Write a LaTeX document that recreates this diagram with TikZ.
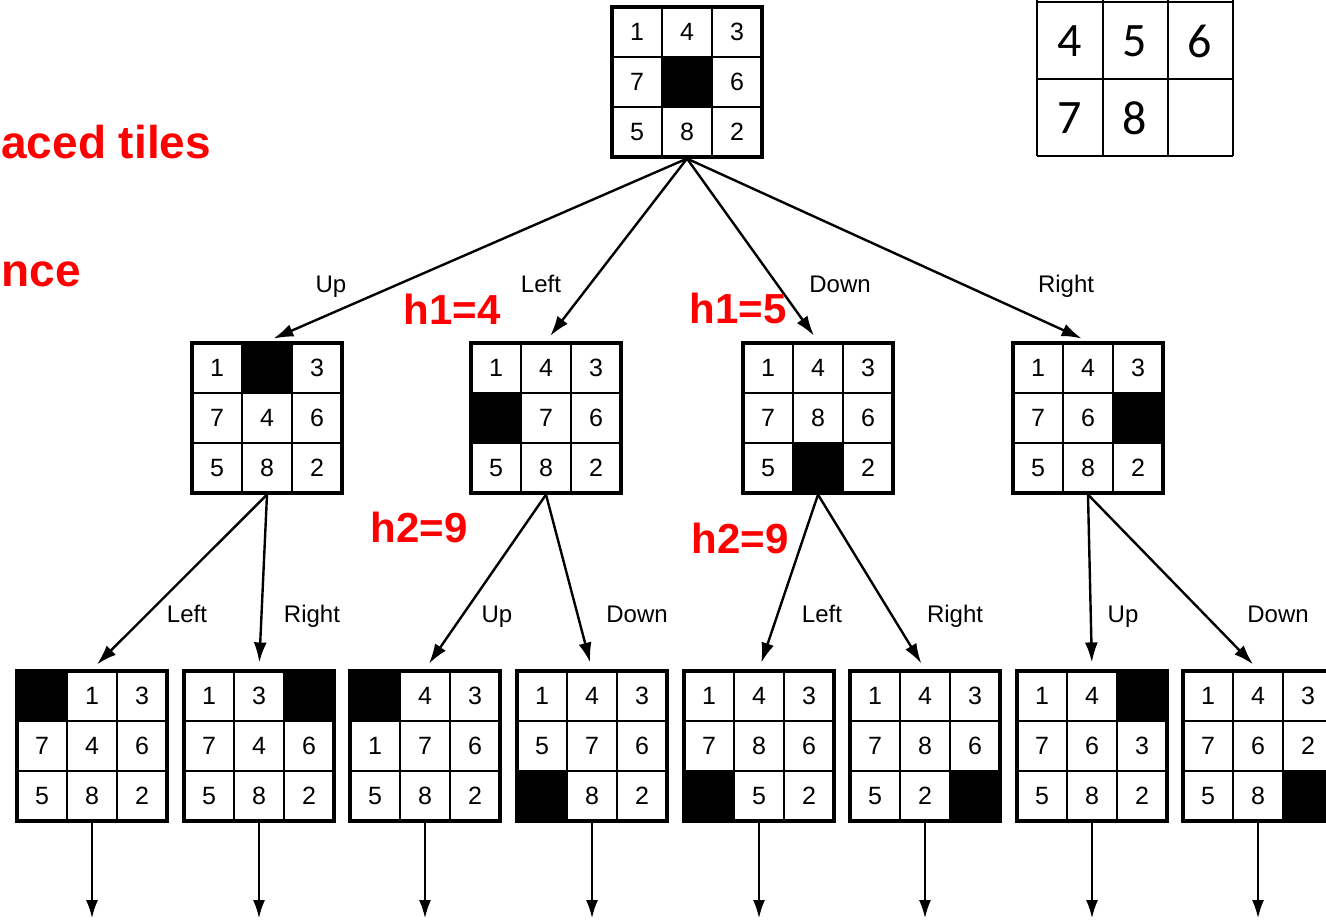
\documentclass[tikz,border=0pt]{standalone}
\usepackage{fontspec}
\setmainfont{Liberation Sans}
\newfontfamily\goalfont{Carlito}
\usetikzlibrary{arrows.meta}

\definecolor{hred}{RGB}{255,0,0}

\tikzset{
  board/.style={draw, line width=1.6pt, minimum size=75pt, inner sep=0pt},
  tile/.style={draw, line width=1.3pt, minimum size=25pt, inner sep=0pt, font=\fontsize{12.5}{14}\selectfont},
  hole/.style={tile, fill=black},
  goal/.style={inner sep=0pt, font=\goalfont\fontsize{24}{28}\selectfont},
  move/.style={-{Latex[length=10pt,width=6.5pt]}, line width=1.2pt, shorten >=3.5pt},
  more/.style={-{Latex[length=9pt,width=6pt]}, line width=0.8pt},
  mlabel/.style={anchor=base, font=\fontsize{12}{14}\selectfont},
  hnote/.style={anchor=base, inner sep=0pt, text=hred, font=\fontsize{21}{24}\selectfont\bfseries},
}

% one 8-puzzle board: name, centre x, centre y, tiles row by row (0 = blank)
\newcommand{\eightboard}[4]{%
  \foreach \tv [count=\k from 0] in {#4} {
    \pgfmathtruncatemacro{\trow}{\k/3}
    \pgfmathtruncatemacro{\tcol}{mod(\k,3)}
    \ifnum\tv=0
      \node[hole] (#1-\k) at ({#2+(\tcol-1)*50}, {#3+(\trow-1)*50}) {};
    \else
      \node[tile] (#1-\k) at ({#2+(\tcol-1)*50}, {#3+(\trow-1)*50}) {\tv};
    \fi
  }
  \node[board] (#1) at (#2,#3) {};
}

\begin{document}
\begin{tikzpicture}[x=0.5pt, y=-0.5pt]
  \clip (0,0) rectangle (1326,920);

  % Goal state (its top row lies above the page)
  \foreach \x in {1037,1103,1168,1233} {
    \draw[line width=1.2pt] (\x,0) -- (\x,156);
  }
  \foreach \y in {2,79,156} {
    \draw[line width=1.2pt] (1037,\y) -- (1233,\y);
  }
  \foreach \n/\x/\y in {4/1070/41, 5/1135/41, 6/1200/41, 7/1070/118, 8/1135/118} {
    \node[goal] (g\n) at (\x,\y) {\n};
  }

  % Red notes on the left
  \node[hnote, anchor=base west, font=\fontsize{23}{26}\selectfont\bfseries] (misplaced) at (1,158) {aced tiles};
  \node[hnote, anchor=base west, font=\fontsize{23}{26}\selectfont\bfseries] (manhattan) at (1,286) {nce};

  % Start state
  \eightboard{root}{687}{82}{1,4,3,7,0,6,5,8,2}

  % First level
  \eightboard{up}{267}{418}{1,0,3,7,4,6,5,8,2}
  \eightboard{left}{546}{418}{1,4,3,0,7,6,5,8,2}
  \eightboard{down}{818}{418}{1,4,3,7,8,6,5,0,2}
  \eightboard{right}{1088}{418}{1,4,3,7,6,0,5,8,2}

  % Second level
  \eightboard{ul}{92}{746}{0,1,3,7,4,6,5,8,2}
  \eightboard{ur}{259}{746}{1,3,0,7,4,6,5,8,2}
  \eightboard{lu}{425}{746}{0,4,3,1,7,6,5,8,2}
  \eightboard{ld}{592}{746}{1,4,3,5,7,6,0,8,2}
  \eightboard{dl}{759}{746}{1,4,3,7,8,6,0,5,2}
  \eightboard{dr}{925}{746}{1,4,3,7,8,6,5,2,0}
  \eightboard{ru}{1092}{746}{1,4,0,7,6,3,5,8,2}
  \eightboard{rd}{1258}{746}{1,4,3,7,6,2,5,8,0}

  % Moves from the start state
  \draw[move] (root.south) -- (up.north);
  \draw[move] (root.south) -- (left.north);
  \draw[move] (root.south) -- (down.north);
  \draw[move] (root.south) -- (right.north);
  \node[mlabel] (lup) at (331,292) {Up};
  \node[mlabel] (lleft) at (541,292) {Left};
  \node[mlabel] (ldown) at (840,292) {Down};
  \node[mlabel] (lright) at (1066,292) {Right};

  % Moves from the first level
  \draw[move] (up.south) -- (ul.north);
  \draw[move] (up.south) -- (ur.north);
  \draw[move] (left.south) -- (lu.north);
  \draw[move] (left.south) -- (ld.north);
  \draw[move] (down.south) -- (dl.north);
  \draw[move] (down.south) -- (dr.north);
  \draw[move] (right.south) -- (ru.north);
  \draw[move] (right.south) -- (rd.north);
  \foreach \m/\x/\txt in {ul/187/Left, ur/312/Right, lu/497/Up, ld/637/Down,
                          dl/822/Left, dr/955/Right, ru/1123/Up, rd/1278/Down} {
    \node[mlabel] (l\m) at (\x,622) {\txt};
  }

  % Heuristic values
  \node[hnote] (hleft1) at (452,324) {h1=4};
  \node[hnote] (hdown1) at (738,323) {h1=5};
  \node[hnote] (hleft2) at (419,542) {h2=9};
  \node[hnote] (hdown2) at (740,553) {h2=9};

  % The search goes on below
  \foreach \b/\x in {ul/92, ur/259, lu/425, ld/592, dl/759, dr/925, ru/1092, rd/1258} {
    \coordinate (\b-end) at (\x,918);
    \draw[more] (\b.south) -- (\b-end);
  }

\end{tikzpicture}
\end{document}
